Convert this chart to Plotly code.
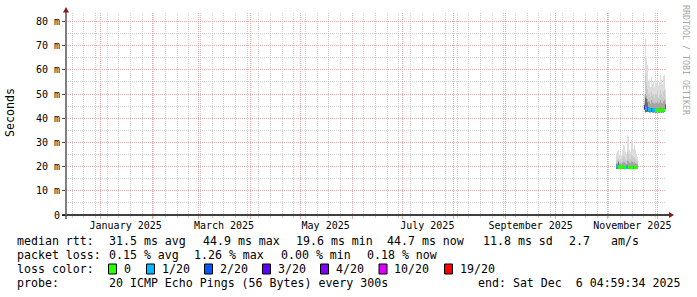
import plotly.graph_objects as go
import pandas as pd

# ---------------- data ----------------
axis_start = "2024-12-11 04:59:34"
axis_end = "2025-12-06 04:59:34"
step_hours = 14.4  # one RRD consolidated column

# cluster 1 (ms)
c1_first = "2025-11-06 04:59:34"
c1_med = [20.2, 19.9, 19.8, 19.7, 19.8, 19.7, 19.9, 19.8, 19.6, 19.7, 19.8,
          19.9, 19.7, 19.8, 19.7, 19.6, 19.7, 19.8, 19.7, 19.6, 19.7, 19.8]
c1_max = [25.5, 26.5, 27.0, 25.0, 26.0, 24.5, 27.0, 29.0, 28.5, 26.0, 25.0,
          33.0, 32.5, 27.0, 26.0, 31.0, 30.5, 27.5, 29.0, 27.0, 25.0, 24.0]
c1_p19 = [22.5, 23.0, 23.5, 22.5, 23.0, 22.0, 23.5, 24.5, 24.0, 23.0, 22.5,
          26.0, 25.5, 23.5, 23.0, 25.0, 24.5, 23.5, 24.0, 23.0, 22.5, 22.0]
c1_p17 = [21.3, 21.5, 21.6, 21.2, 21.4, 21.0, 21.6, 22.0, 21.8, 21.4, 21.2,
          22.5, 22.3, 21.6, 21.4, 22.2, 22.0, 21.6, 21.8, 21.4, 21.2, 21.0]
c1_p14 = [20.8, 20.4, 22.0, 20.2, 20.3, 20.2, 20.4, 20.4, 20.2, 20.2, 20.3,
          20.5, 20.3, 20.3, 20.2, 20.2, 20.3, 20.3, 20.3, 20.2, 20.2, 20.2]
c1_min = [19.0, 19.2, 19.2, 19.1, 19.2, 19.1, 19.2, 19.1, 19.0, 19.1, 19.2,
          19.2, 19.1, 19.2, 19.1, 19.0, 19.1, 19.2, 19.1, 19.0, 19.1, 19.2]
c1_loss = [1, 1, 0, 0, 0, 0, 0, 0, 0, 0, 1, 1, 0, 0, 0, 0, 0, 1, 0, 0, 0, 0]

# cluster 2 (ms)
c2_first = "2025-11-23 00:11:34"
c2_med = [44.5, 44.2, 44.0, 43.8, 43.6, 43.5, 43.4, 43.5, 43.4, 43.3, 43.4,
          43.3, 43.2, 43.3, 43.2, 43.3, 43.2, 43.3, 43.4, 43.3, 43.5, 44.7]
c2_max = [50.0, 73.0, 65.5, 62.0, 55.0, 56.0, 53.0, 57.0, 54.0, 55.5, 53.0,
          56.0, 54.5, 57.0, 53.5, 55.0, 58.0, 56.0, 54.0, 57.5, 58.0, 52.0]
c2_p19 = [47.0, 58.0, 55.0, 52.0, 50.0, 50.5, 49.0, 51.0, 49.5, 50.0, 48.5,
          50.0, 49.5, 51.0, 48.5, 49.5, 51.5, 50.0, 49.0, 51.0, 51.5, 48.0]
c2_p17 = [46.0, 50.0, 49.0, 48.0, 47.0, 47.0, 46.0, 47.5, 46.5, 46.5, 46.0,
          46.5, 46.3, 47.0, 46.0, 46.5, 47.5, 46.5, 46.0, 47.0, 47.5, 46.0]
c2_p14 = [45.5, 48.5, 48.0, 46.5, 44.5, 44.3, 44.0, 44.2, 44.0, 44.0, 43.9,
          44.0, 43.8, 44.0, 43.8, 43.9, 44.0, 43.9, 43.9, 44.0, 44.2, 45.8]
c2_min = [43.5, 42.5, 42.6, 42.7, 42.6, 42.5, 42.5, 42.6, 42.5, 42.4, 42.5,
          42.4, 42.4, 42.5, 42.4, 42.4, 42.5, 42.4, 42.5, 42.4, 42.6, 43.8]
c2_loss = [3, 1, 1, 2, 1, 1, 1, 2, 1, 1, 1, 0, 0, 0, 0, 0, 0, 0, 0, 0, 0, 2]

y_ticks = [0, 10, 20, 30, 40, 50, 60, 70, 80]
y_ticktext = ["0", "10 m", "20 m", "30 m", "40 m", "50 m", "60 m", "70 m", "80 m"]

loss_labels = ["0", "1/20", "2/20", "3/20", "4/20", "10/20", "19/20"]
loss_colors = ["#26ff00", "#00b8ff", "#0059ff", "#5e00ff", "#7e00ff", "#dd00ff", "#ff0000"]

rtt_items = ["median rtt:", "31.5 ms avg", "44.9 ms max", "19.6 ms min",
             "44.7 ms now", "11.8 ms sd", "2.7", "am/s"]
loss_items = ["packet loss:", "0.15 % avg", "1.26 % max", "0.00 % min", "0.18 % now"]
probe_items = ["probe:", "20 ICMP Echo Pings (56 Bytes) every 300s"]
end_text = "end: Sat Dec  6 04:59:34 2025"

# ---------------- styling / layout constants ----------------
W, H = 697, 297
L, R, T, B = 66, 31, 13, 82
PW, PH = W - L - R, H - T - B
FONT = "DejaVu Sans Mono"
MGRID = "#e6a8a8"
GRID = "#cfcfcf"
step = pd.Timedelta(hours=step_hours)
ymax = 83.5
band = 0.7  # half height of loss-coloured median band (ms)


def px(x):
    return (x - L) / PW


def py(y):
    return (H - B - y) / PH


fig = go.Figure()

smoke_layers = [("max", "#dddddd"), ("p19", "#cacaca"), ("p17", "#a4a4a4"), ("p14", "#6b6b6b")]
clusters = [
    (c1_first, {"max": c1_max, "p19": c1_p19, "p17": c1_p17, "p14": c1_p14}, c1_min, c1_med, c1_loss),
    (c2_first, {"max": c2_max, "p19": c2_p19, "p17": c2_p17, "p14": c2_p14}, c2_min, c2_med, c2_loss),
]
for first, ups, lo, med, loss in clusters:
    edges = pd.date_range(pd.Timestamp(first), periods=len(med) + 1, freq=step)
    for key, col in smoke_layers:
        fig.add_trace(go.Scatter(x=edges, y=list(lo) + [lo[-1]], mode="lines",
                                 line=dict(width=0, shape="hv"), showlegend=False,
                                 hoverinfo="skip"))
        fig.add_trace(go.Scatter(x=edges, y=list(ups[key]) + [ups[key][-1]], mode="lines",
                                 line=dict(width=0, shape="hv"), fill="tonexty",
                                 fillcolor=col, showlegend=False, hoverinfo="skip"))
    # loss coloured median band
    for k, col in enumerate(loss_colors):
        xs, ys = [], []
        for i, (m, lv) in enumerate(zip(med, loss)):
            if lv != k:
                continue
            a, b = edges[i], edges[i + 1]
            xs += [a, b, b, a, a, None]
            ys += [m - band, m - band, m + band, m + band, m - band, None]
        if xs:
            fig.add_trace(go.Scatter(x=xs, y=ys, mode="lines", fill="toself",
                                     fillcolor=col, line=dict(width=0),
                                     showlegend=False, hoverinfo="skip"))

# invisible trace carrying the label axis
fig.add_trace(go.Scatter(x=[axis_start, axis_end], y=[None, None], xaxis="x2",
                         mode="lines", showlegend=False, hoverinfo="skip"))

fig.update_layout(
    width=W, height=H, autosize=False,
    margin=dict(l=L, r=R, t=T, b=B, pad=0),
    paper_bgcolor="white", plot_bgcolor="white",
    font=dict(family=FONT, size=10, color="black"),
    xaxis=dict(type="date", range=[axis_start, axis_end], showticklabels=False,
               tick0="2025-01-01", dtick="M1", ticks="outside", ticklen=3,
               tickcolor=MGRID, showgrid=True, gridcolor=MGRID, griddash="1px,1px",
               gridwidth=1, zeroline=False, showline=False,
               minor=dict(tick0="2024-12-15", dtick=7 * 86400000, showgrid=True,
                          gridcolor=GRID, griddash="1px,1px", ticks="outside",
                          ticklen=2, tickcolor=GRID)),
    xaxis2=dict(type="date", range=[axis_start, axis_end], overlaying="x", anchor="y",
                side="bottom", tick0="2025-01-16", dtick="M2", tickformat="%B %Y",
                showgrid=False, ticks="", zeroline=False, showline=False,
                ticklabelstandoff=3,
                tickfont=dict(family=FONT, size=10, color="black")),
    yaxis=dict(range=[0, ymax], tickvals=y_ticks, ticktext=y_ticktext,
               ticks="outside", ticklen=3, tickcolor="#555555",
               showgrid=True, gridcolor=MGRID, griddash="1px,1px", zeroline=False,
               showline=False, tickfont=dict(family=FONT, size=10, color="black"),
               minor=dict(dtick=5, showgrid=True, gridcolor=GRID, griddash="1px,1px")),
)

# axis lines with arrows (RRDtool style)
shapes = [
    dict(type="line", xref="paper", yref="paper", x0=px(62), x1=px(670), y0=0, y1=0,
         line=dict(color="black", width=1.5)),
    dict(type="line", xref="paper", yref="paper", x0=0, x1=0, y0=py(219), y1=py(11),
         line=dict(color="#555555", width=1.5)),
    dict(type="path", xref="paper", yref="paper", path=f"M {px(669)} {py(212)} L {px(674)} {py(215)} L {px(669)} {py(218)} Z",
         fillcolor="#8b1a1a", line=dict(width=0)),
    dict(type="path", xref="paper", yref="paper", path=f"M {px(63)} {py(12.5)} L {px(66)} {py(7)} L {px(69)} {py(12.5)} Z",
         fillcolor="#8b1a1a", line=dict(width=0)),
]

ann = []
# y axis title
ann.append(dict(text="Seconds", xref="paper", yref="paper", x=px(10), y=py(113),
                textangle=-90, showarrow=False, font=dict(family=FONT, size=11.6, color="black"),
                xanchor="center", yanchor="middle"))
# watermark
ann.append(dict(text="RRDTOOL / TOBI OETIKER", xref="paper", yref="paper", x=px(686), y=py(60),
                textangle=90, showarrow=False, font=dict(family=FONT, size=8.3, color="#a8a8a8"),
                xanchor="center", yanchor="middle"))


def legend_text(txt, x, y, anchor="left"):
    ann.append(dict(text=txt, xref="paper", yref="paper", x=px(x), y=py(y), showarrow=False,
                    xanchor=anchor, yanchor="middle", borderpad=0,
                    font=dict(family=FONT, size=11.6, color="black")))


rtt_x = [16, 108, 202, 294.5, 386, 482, 568, 610]
for s, x in zip(rtt_items, rtt_x):
    legend_text(s, x, 241)
loss_x = [16, 108, 193, 280, 366]
for s, x in zip(loss_items, loss_x):
    legend_text(s, x, 255)
legend_text("loss color:", 16, 269)
box_x = [108.5, 146.5, 204.5, 262.5, 320.5, 379, 444.5]
for lab, col, bx in zip(loss_labels, loss_colors, box_x):
    shapes.append(dict(type="rect", xref="paper", yref="paper", x0=px(bx), x1=px(bx + 8),
                       y0=py(274), y1=py(264), fillcolor=col, line=dict(color="black", width=1)))
    legend_text(lab, bx + 14.5, 269)
for s, x in zip(probe_items, [16, 108]):
    legend_text(s, x, 283)
legend_text(end_text, 681, 283, anchor="right")

fig.update_layout(shapes=shapes, annotations=ann)
fig.write_html("out.html")
